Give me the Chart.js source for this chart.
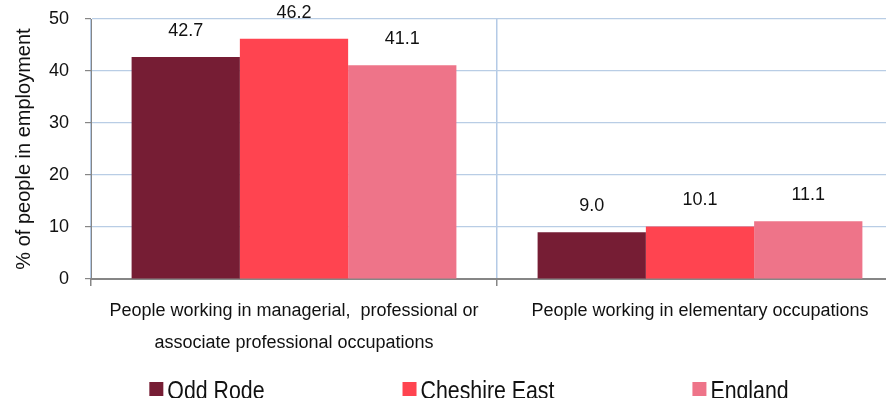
<!DOCTYPE html>
<html>
<head>
<meta charset="utf-8">
<title>Occupations</title>
<script src="https://cdn.jsdelivr.net/npm/chart.js@4.4.1/dist/chart.umd.min.js"></script>
<style>
    html, body { margin: 0; padding: 0; overflow: hidden; background: #fff; }
    #wrap { position: relative; width: 903px; height: 398px; }
</style>
</head>
<body>
<div id="wrap"><canvas id="occupationChart"></canvas></div>
<script>
// Occupation groups (first one wraps onto two lines)
const categories = [
    ['People working in managerial,  professional or', 'associate professional occupations'],
    'People working in elementary occupations'
];
const seriesNames = ['Odd Rode', 'Cheshire East', 'England'];
const oddRode = [42.7, 9.0];
const cheshireEast = [46.2, 10.1];
const england = [41.1, 11.1];
const yTicks = [0, 10, 20, 30, 40, 50];

const colours = ['#761d34', '#ff4450', '#ee7489'];
const FONT = '"Liberation Sans", Arial, sans-serif';

Chart.defaults.font.family = FONT;
Chart.defaults.color = '#111';

// Value printed above each bar
const valueLabels = {
    id: 'valueLabels',
    afterDatasetsDraw(chart) {
        const ctx = chart.ctx;
        ctx.save();
        ctx.font = '18px ' + FONT;
        ctx.fillStyle = '#111';
        ctx.textAlign = 'center';
        ctx.textBaseline = 'middle';
        chart.data.datasets.forEach((ds, i) => {
            chart.getDatasetMeta(i).data.forEach((bar, j) => {
                ctx.fillText(ds.data[j].toFixed(1), bar.x, bar.y - 26);
            });
        });
        ctx.restore();
    }
};

// Wide-spaced legend along the bottom edge, text squeezed to a narrow face
const spacedLegend = {
    id: 'spacedLegend',
    afterDraw(chart) {
        const ctx = chart.ctx;
        const box = 14, gap = 5, spacing = 137, centre = 469.5, squeeze = 0.82;
        ctx.save();
        ctx.font = '26px ' + FONT;
        ctx.textBaseline = 'alphabetic';
        const items = chart.data.datasets.map(ds => {
            const tw = ctx.measureText(ds.label).width * squeeze;
            return { text: ds.label, colour: ds.backgroundColor, w: box + gap + tw };
        });
        const total = items.reduce((s, it) => s + it.w, 0) + spacing * (items.length - 1);
        let x = centre - total / 2;
        items.forEach(it => {
            ctx.fillStyle = it.colour;
            ctx.fillRect(x, 382, box, box);
            ctx.save();
            ctx.translate(x + box + gap - 1, 399);
            ctx.scale(squeeze, 1);
            ctx.fillStyle = '#111';
            ctx.fillText(it.text, 0, 0);
            ctx.restore();
            x += it.w + spacing;
        });
        ctx.restore();
    }
};

new Chart(document.getElementById('occupationChart'), {
    type: 'bar',
    data: {
        labels: categories,
        datasets: [
            { label: seriesNames[0], data: oddRode, backgroundColor: colours[0] },
            { label: seriesNames[1], data: cheshireEast, backgroundColor: colours[1] },
            { label: seriesNames[2], data: england, backgroundColor: colours[2] }
        ]
    },
    options: {
        responsive: true,
        maintainAspectRatio: false,
        animation: false,
        layout: { padding: { top: 19, right: 0, bottom: 39, left: 0 } },
        datasets: {
            bar: { categoryPercentage: 0.8, barPercentage: 1.0, borderWidth: 0 }
        },
        plugins: {
            legend: { display: false },
            tooltip: { enabled: false }
        },
        scales: {
            x: {
                grid: { offset: true, color: '#b4cae6', tickColor: '#868686', tickLength: 7, lineWidth: 1.5 },
                border: { color: '#868686', width: 2 },
                ticks: {
                    font: { size: 18, lineHeight: 1.78 },
                    color: '#111',
                    padding: 9,
                    maxRotation: 0,
                    autoSkip: false
                },
                afterFit(scale) { scale.height = 80; }
            },
            y: {
                min: yTicks[0],
                max: yTicks[yTicks.length - 1],
                ticks: {
                    stepSize: yTicks[1] - yTicks[0],
                    font: { size: 18 },
                    color: '#111',
                    padding: 16
                },
                grid: { color: '#b9cde5', tickColor: '#868686', tickLength: 6, lineWidth: 1.2 },
                border: { color: '#868686', width: 1 },
                title: {
                    display: true,
                    text: '% of people in employment',
                    font: { size: 20 },
                    color: '#111',
                    padding: { top: 12, bottom: 0 }
                },
                afterFit(scale) {
                    scale.width = 91;
                    // tick padding would otherwise push the plot top down
                    scale.paddingTop = 0;
                    scale.paddingBottom = 0;
                }
            }
        }
    },
    plugins: [valueLabels, spacedLegend]
});
</script>
</body>
</html>
